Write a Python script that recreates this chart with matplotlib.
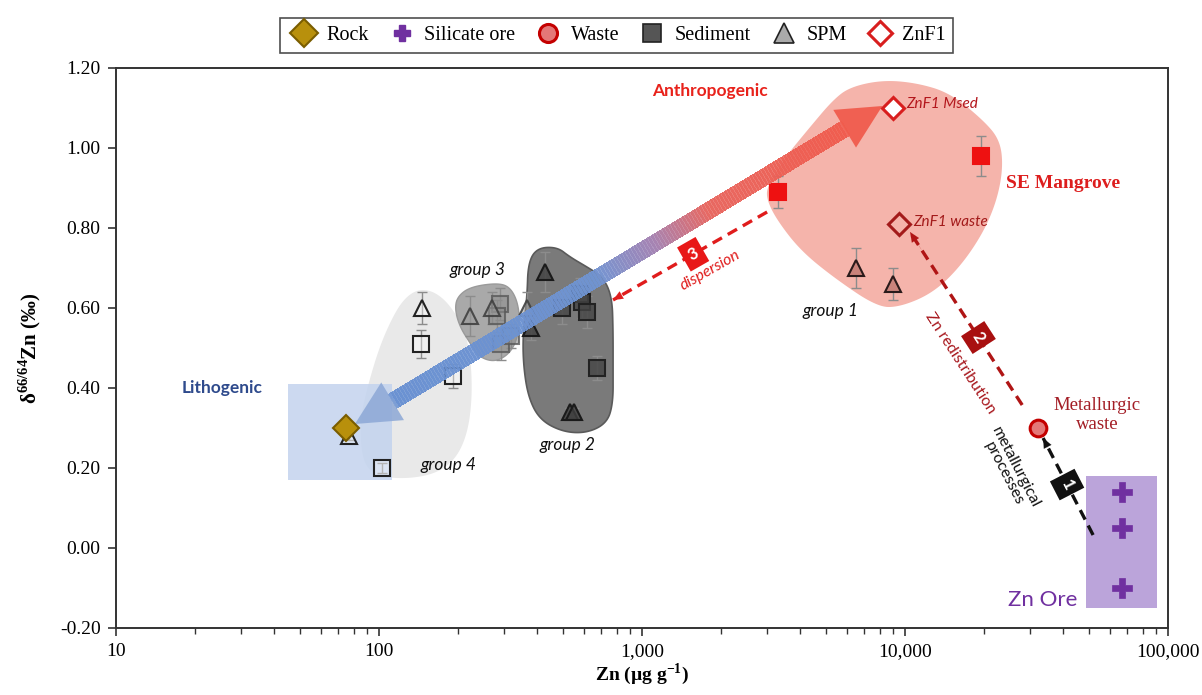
import numpy as np
import matplotlib
matplotlib.use('Agg')
import matplotlib.pyplot as plt
from matplotlib.lines import Line2D
from matplotlib.patches import Polygon, Rectangle
from matplotlib.collections import PolyCollection
from matplotlib.ticker import FuncFormatter, FixedLocator, LogLocator, NullLocator

plt.rcParams['mathtext.fontset'] = 'custom'
plt.rcParams['mathtext.rm'] = 'Liberation Serif'
plt.rcParams['mathtext.bf'] = 'Liberation Serif:bold'

SERIF = 'Liberation Serif'
SANS = 'Lato'

# ---------------- data ----------------
rock_x = [75]; rock_y = [0.30]
ore_x = [67000, 67000, 67000]; ore_y = [0.14, 0.05, -0.10]
waste_x = [32000]; waste_y = [0.30]

sed_g1_x = [3300, 19500]; sed_g1_y = [0.89, 0.98]; sed_g1_e = [0.04, 0.05]
sed_g2_x = [496, 581, 590, 617, 674]; sed_g2_y = [0.60, 0.635, 0.615, 0.59, 0.45]; sed_g2_e = [0.04, 0.04, 0.04, 0.04, 0.03]
sed_g3_x = [288, 282, 291, 318]; sed_g3_y = [0.61, 0.58, 0.51, 0.53]; sed_g3_e = [0.04, 0.04, 0.04, 0.03]
sed_g4_x = [145, 191, 103]; sed_g4_y = [0.51, 0.43, 0.20]; sed_g4_e = [0.035, 0.03, 0.012]

spm_g1_x = [6500, 9000]; spm_g1_y = [0.70, 0.66]; spm_g1_e = [0.05, 0.04]
spm_g2_x = [428, 378, 532, 551]; spm_g2_y = [0.69, 0.55, 0.34, 0.34]; spm_g2_e = [0.05, 0.03, 0.01, 0.01]
spm_g3_x = [222, 269, 365]; spm_g3_y = [0.58, 0.60, 0.60]; spm_g3_e = [0.05, 0.04, 0.04]
spm_g4_x = [146, 77]; spm_g4_y = [0.60, 0.28]; spm_g4_e = [0.04, 0.01]

znf1_x = [9000, 9500]; znf1_y = [1.10, 0.81]
znf1_labels = ['ZnF1 Msed', 'ZnF1 waste']

xticks = [10, 100, 1000, 10000, 100000]
yticks = [-0.2, 0.0, 0.2, 0.4, 0.6, 0.8, 1.0, 1.2]

# blob outlines (log10 Zn, delta)
blob_g4 = [(2.106, 0.63), (2.156, 0.6475), (2.213, 0.64), (2.270, 0.6075), (2.327, 0.545), (2.350, 0.47),
           (2.354, 0.37), (2.335, 0.2825), (2.289, 0.22), (2.213, 0.185), (2.099, 0.1725), (1.985, 0.18),
           (1.935, 0.22), (1.928, 0.32), (1.958, 0.4075), (2.004, 0.5075), (2.061, 0.59)]
blob_g3 = [(2.297, 0.6275), (2.346, 0.6525), (2.449, 0.6625), (2.498, 0.6525), (2.529, 0.6125), (2.536, 0.5525),
           (2.510, 0.495), (2.449, 0.465), (2.384, 0.475), (2.346, 0.5125), (2.308, 0.5525), (2.289, 0.595)]
blob_g2 = [(2.601, 0.75), (2.677, 0.7525), (2.726, 0.7275), (2.791, 0.7025), (2.852, 0.6775), (2.886, 0.6275),
           (2.890, 0.545), (2.890, 0.445), (2.890, 0.3625), (2.867, 0.3125), (2.791, 0.2875), (2.700, 0.29),
           (2.612, 0.32), (2.567, 0.3775), (2.548, 0.4625), (2.548, 0.545), (2.563, 0.6275), (2.567, 0.7125)]
blob_g1 = [(3.791, 1.1525), (3.916, 1.17), (4.046, 1.1625), (4.171, 1.1375), (4.297, 1.07), (4.361, 1.02),
           (4.373, 0.9525), (4.350, 0.87), (4.297, 0.7875), (4.209, 0.7025), (4.106, 0.6375), (3.981, 0.6025),
           (3.894, 0.6025), (3.726, 0.6775), (3.601, 0.745), (3.513, 0.82), (3.475, 0.87), (3.475, 0.9025),
           (3.536, 0.97), (3.639, 1.0525), (3.726, 1.12)]

# ---------------- figure ----------------
W, H = 1202, 695
fig = plt.figure(figsize=(W / 100, H / 100), dpi=100)
ax = fig.add_axes([116 / W, 1 - 628 / H, (1168 - 116) / W, (628 - 68) / H])
ax.set_xscale('log')
ax.set_xlim(10, 100000)
ax.set_ylim(-0.2, 1.2)


def chaikin(pts, n=4):
    p = np.asarray(pts, float)
    for _ in range(n):
        q = np.roll(p, -1, axis=0)
        a = 0.75 * p + 0.25 * q
        b = 0.25 * p + 0.75 * q
        p = np.empty((2 * len(a), 2))
        p[0::2] = a
        p[1::2] = b
    return p


def add_blob(pts, fc, ec='none', lw=0, alpha=1.0, z=1):
    p = chaikin(pts)
    xy = np.c_[10 ** p[:, 0], p[:, 1]]
    ax.add_patch(Polygon(xy, closed=True, fc=fc, ec=ec, lw=lw, alpha=alpha, zorder=z))


add_blob(blob_g1, '#f5b4ab', z=1)
add_blob(blob_g4, '#e9e9e9', z=1)
add_blob(blob_g3, '#a9a9a9', ec='#9a9a9a', lw=1, z=1.1)
add_blob(blob_g2, '#7a7a7a', ec='#5a5a5a', lw=1.2, z=1.1)

ax.add_patch(Rectangle((45, 0.17), 112 - 45, 0.41 - 0.17, fc='#c3d3ee', ec='none', alpha=0.85, zorder=1.5))
ax.add_patch(Rectangle((48700, -0.15), 90800 - 48700, 0.18 + 0.15, fc='#bba4da', ec='none', zorder=1.5))

# ---------------- points ----------------
ecol = '#8c8c8c'


def pts(x, y, e, marker, ms, mfc, mec, mew=1.5, z=3):
    if e is not None:
        ax.errorbar(x, y, yerr=e, fmt='none', ecolor=ecol, elinewidth=1, capsize=3.5, capthick=1, zorder=z - 0.1)
    ax.plot(x, y, ls='none', marker=marker, ms=ms, mfc=mfc, mec=mec, mew=mew, zorder=z)


pts(sed_g4_x, sed_g4_y, sed_g4_e, 's', 11, (1, 1, 1, 0.35), '#222222')
pts(spm_g4_x, spm_g4_y, spm_g4_e, '^', 12, (1, 1, 1, 0.35), '#222222')
pts(sed_g3_x, sed_g3_y, sed_g3_e, 's', 12, (0.55, 0.55, 0.55, 0.55), (0.35, 0.35, 0.35, 0.8))
pts(spm_g3_x, spm_g3_y, spm_g3_e, '^', 12, (0.6, 0.6, 0.6, 0.55), (0.25, 0.25, 0.25, 0.9))
pts(sed_g2_x, sed_g2_y, sed_g2_e, 's', 12, (0.27, 0.27, 0.27, 0.8), '#222222')
pts(spm_g2_x, spm_g2_y, spm_g2_e, '^', 12, (0.25, 0.25, 0.25, 0.8), '#1a1a1a')
pts(sed_g1_x, sed_g1_y, sed_g1_e, 's', 11, '#ee1111', '#ee1111')
pts(spm_g1_x, spm_g1_y, spm_g1_e, '^', 12, '#c9837b', '#2a1a1a')

# ---------------- big gradient arrow ----------------
fig.canvas.draw()
T = ax.transData
Ti = ax.transData.inverted()
p0 = T.transform((81, 0.31))
p1 = T.transform((8200, 1.105))
u = (p1 - p0) / np.hypot(*(p1 - p0))
nrm = np.array([-u[1], u[0]])
hl, hw, sw = 44, 22, 8
a0 = p0 + u * hl
a1 = p1 - u * hl
stops_t = [0.0, 0.45, 0.58, 0.70, 1.0]
stops_c = np.array([(105, 145, 210), (112, 148, 210), (165, 130, 178), (232, 102, 95), (240, 92, 78)]) / 255.0
N = 160
polys, cols = [], []
for i in range(N):
    t0, t1 = i / N, (i + 1) / N
    q0 = a0 + (a1 - a0) * t0
    q1 = a0 + (a1 - a0) * (t1 + 0.002)
    quad = np.array([q0 + nrm * sw, q1 + nrm * sw, q1 - nrm * sw, q0 - nrm * sw])
    polys.append(Ti.transform(quad))
    tm = (t0 + t1) / 2
    cols.append([np.interp(tm, stops_t, stops_c[:, k]) for k in range(3)] + [0.85])
ax.add_collection(PolyCollection(polys, facecolors=cols, edgecolors='none', antialiased=False, zorder=4))
head_b = np.array([p0, p0 + u * hl + nrm * hw, p0 + u * hl - nrm * hw])
head_r = np.array([p1, p1 - u * hl + nrm * hw, p1 - u * hl - nrm * hw])
ax.add_patch(Polygon(Ti.transform(head_b), closed=True, fc=(0.55, 0.66, 0.84, 0.85), ec='none', zorder=4))
ax.add_patch(Polygon(Ti.transform(head_r), closed=True, fc=(0.94, 0.36, 0.30, 0.95), ec='none', zorder=4))

# rock, ore, waste, ZnF1 on top
pts(rock_x, rock_y, None, 'D', 13, '#b8900c', '#7a5d00', mew=1.5, z=6)
pts(ore_x, ore_y, None, 'P', 14, '#7030a0', '#7030a0', mew=0.5, z=6)
pts(waste_x, waste_y, [0.015], 'o', 12, '#e47878', '#c40000', mew=2.2, z=6)
ax.plot(znf1_x[:1], znf1_y[:1], ls='none', marker='D', ms=11, mfc='white', mec='#d81e1e', mew=2.2, zorder=6)
ax.plot(znf1_x[1:], znf1_y[1:], ls='none', marker='D', ms=11, mfc='none', mec='#a31a1a', mew=2.2, zorder=6)


# ---------------- dashed process arrows ----------------
def angle_of(s, e):
    d = T.transform(e) - T.transform(s)
    ang = np.degrees(np.arctan2(d[1], d[0]))
    if ang > 90:
        ang -= 180
    if ang <= -90:
        ang += 180
    return ang


def along(s, e, t):
    lx = np.log10(s[0]) + t * (np.log10(e[0]) - np.log10(s[0]))
    return 10 ** lx, s[1] + t * (e[1] - s[1])


def dashed_arrow(s, e, color, num, boxc, tbox):
    ax.plot([s[0], e[0]], [s[1], e[1]], ls=(0, (3.2, 2.0)), color=color, lw=2.4, zorder=5, dash_capstyle='butt')
    pre = along(s, e, 0.9)
    ax.annotate('', xy=e, xytext=pre,
                arrowprops=dict(arrowstyle='-|>,head_length=0.7,head_width=0.3', color=color, lw=0.1,
                                shrinkA=0, shrinkB=0), zorder=5)
    ang = angle_of(s, e)
    bx, by = along(s, e, tbox)
    ax.text(bx, by, num, rotation=ang, ha='center', va='center', color='white', fontsize=12,
            fontweight='bold', family=SANS, rotation_mode='anchor', zorder=7,
            bbox=dict(boxstyle='square,pad=0.35', fc=boxc, ec='none'))
    return ang


s1, e1 = (51900, 0.0325), (33500, 0.275)
s2, e2 = (27900, 0.3575), (10450, 0.79)
s3, e3 = (2990, 0.84), (776, 0.62)
ang1 = dashed_arrow(s1, e1, '#111111', '1', '#111111', 0.52)
ang2 = dashed_arrow(s2, e2, '#b01515', '2', '#a81010', 0.39)
ang3 = dashed_arrow(s3, e3, '#e01c1c', '3', '#e81818', 0.48)

ax.text(1815, 0.695, 'dispersion', rotation=ang3, ha='center', va='center', fontsize=11.5,
        style='italic', color='#e01c1c', family=SANS, rotation_mode='anchor', zorder=7)
ax.text(16200, 0.4625, 'Zn redistribution', rotation=ang2, ha='center', va='center', fontsize=11.5,
        color='#a8181e', family=SANS, rotation_mode='anchor', zorder=7)
ax.text(25000, 0.195, 'metallurgical\nprocesses', rotation=ang1, ha='center', va='center', fontsize=11.5,
        color='#111111', family=SANS, rotation_mode='anchor', linespacing=0.95, zorder=7)

# ---------------- labels ----------------
ax.text(1815, 1.1425, 'Anthropogenic', ha='center', va='center', fontsize=12.5, fontweight='bold',
        color='#e8221b', family=SANS, zorder=7)
ax.text(39900, 0.9125, 'SE Mangrove', ha='center', va='center', fontsize=14, fontweight='bold',
        color='#dd1e1e', family=SERIF, zorder=7)
ax.text(25.3, 0.40, 'Lithogenic', ha='center', va='center', fontsize=12.5, fontweight='bold',
        color='#2e4a8c', family=SANS, zorder=7)
for txt, gx, gy in [('group 1', 5190, 0.5925), ('group 2', 519, 0.2575), ('group 3', 236, 0.695),
                    ('group 4', 183, 0.2075)]:
    ax.text(gx, gy, txt, ha='center', va='center', fontsize=12.5, style='italic', color='#111111',
            family=SANS, zorder=7)
ax.text(10100, 1.11, znf1_labels[0], ha='left', va='center', fontsize=11, style='italic',
        color='#b3161c', family=SANS, zorder=7)
ax.text(10700, 0.815, znf1_labels[1], ha='left', va='center', fontsize=11, style='italic',
        color='#a31a1a', family=SANS, zorder=7)
ax.text(53700, 0.3325, 'Metallurgic\nwaste', ha='center', va='center', fontsize=13.5, color='#a31d25',
        family=SERIF, linespacing=1.2, zorder=7)
ax.text(33500, -0.13, 'Zn Ore', ha='center', va='center', fontsize=16, color='#7030a0', family=SANS, zorder=7)

# ---------------- axes styling ----------------
ax.xaxis.set_major_locator(FixedLocator(xticks))
ax.xaxis.set_minor_locator(LogLocator(base=10, subs=np.arange(2, 10)))
ax.xaxis.set_major_formatter(FuncFormatter(lambda v, p: f'{int(round(v)):,}'))
ax.xaxis.set_minor_formatter(FuncFormatter(lambda v, p: ''))
ax.yaxis.set_major_locator(FixedLocator(yticks))
ax.yaxis.set_minor_locator(NullLocator())
ax.yaxis.set_major_formatter(FuncFormatter(lambda v, p: f'{v:.2f}'.replace('-0.00', '0.00')))
ax.tick_params(axis='both', which='major', direction='out', length=6, width=1.2, color='#333333',
               labelsize=14, pad=5)
ax.tick_params(axis='x', which='minor', direction='out', length=4, width=1, color='#333333')
for lab in ax.get_xticklabels() + ax.get_yticklabels():
    lab.set_family(SERIF)
for sp in ax.spines.values():
    sp.set_color('#333333')
    sp.set_linewidth(1.4)

ax.set_xlabel('Zn (µg g$^{\\mathbf{-1}}$)', fontsize=14, fontweight='bold', family=SERIF, labelpad=1)
ax.set_ylabel('δ$^{\\mathbf{66/64}}$Zn (‰)', fontsize=15, fontweight='bold', family=SERIF, labelpad=12)

handles = [
    Line2D([], [], ls='none', marker='D', ms=14, mfc='#b8900c', mec='#7a5d00', mew=1.5),
    Line2D([], [], ls='none', marker='P', ms=12, mfc='#7030a0', mec='#7030a0'),
    Line2D([], [], ls='none', marker='o', ms=13, mfc='#e47878', mec='#c40000', mew=2.2),
    Line2D([], [], ls='none', marker='s', ms=13, mfc='#555555', mec='#222222', mew=1.2),
    Line2D([], [], ls='none', marker='^', ms=14, mfc='#aaaaaa', mec='#222222', mew=1.2),
    Line2D([], [], ls='none', marker='D', ms=12, mfc='white', mec='#d81e1e', mew=2.2),
]
labels = ['Rock', 'Silicate ore', 'Waste', 'Sediment', 'SPM', 'ZnF1']
leg = ax.legend(handles, labels, loc='lower center', bbox_to_anchor=(0.476, 1.009), ncol=6, frameon=True,
                fancybox=False, edgecolor='#222222', prop={'family': SERIF, 'size': 14.5},
                handletextpad=0.3, columnspacing=0.85, borderpad=0.4, handlelength=1.6)
leg.get_frame().set_linewidth(1.2)

fig.savefig('out.png', dpi=100)
